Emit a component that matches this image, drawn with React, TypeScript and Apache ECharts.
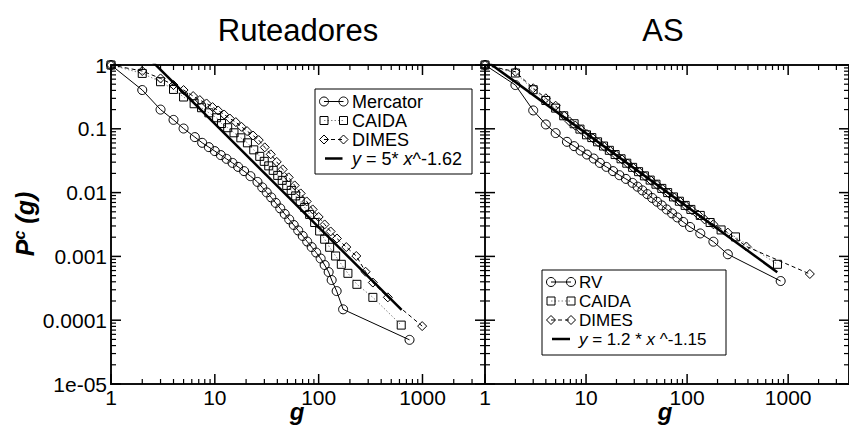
import React, { useEffect, useRef } from 'react';
import * as echarts from 'echarts';

const FONT = "'Liberation Sans', Arial, Helvetica, sans-serif";

// ---------- Ruteadores panel ----------
const routersMercator: [number, number][] = [
  [1, 1], [2, 0.405], [3, 0.2], [4, 0.138], [5, 0.101], [6.42, 0.0741], [7.55, 0.0603], [8.76, 0.0516],
  [10, 0.0447], [11.42, 0.0387], [12.96, 0.0338], [14.8, 0.0292], [16.75, 0.0253], [19.13, 0.0217],
  [22.04, 0.0181], [25.74, 0.0147], [28.62, 0.01207], [31.62, 0.01007], [34.94, 0.0084], [38.6, 0.00689],
  [42.65, 0.00565], [47.1, 0.00463], [52.03, 0.0038], [57.5, 0.00311], [63.53, 0.00255], [70.2, 0.00209],
  [77.53, 0.00171], [85.64, 0.0014], [94.62, 0.00115], [104.5, 0.000927], [114.2, 0.000733],
  [124.8, 0.000569], [133.4, 0.000426], [149, 0.000286], [172, 0.000148], [750, 0.0000492],
];
const routersCaida: [number, number][] = [
  [1, 1], [2, 0.738], [3, 0.547], [4, 0.414], [5, 0.315], [6.32, 0.247], [7.45, 0.214], [8.76, 0.178],
  [10.4, 0.149], [11.6, 0.121], [13.3, 0.104], [15.3, 0.0866], [17.8, 0.0722], [20.6, 0.0603],
  [23.71, 0.0468], [27.08, 0.037], [29.92, 0.0309], [33.05, 0.02625], [36.52, 0.02231], [40.35, 0.01862],
  [44.57, 0.01554], [49.24, 0.01297], [54.4, 0.01083], [60.09, 0.00887], [66.4, 0.00727], [73.34, 0.00586],
  [81.9, 0.00455], [91.5, 0.0034], [102.2, 0.0025], [114.2, 0.00186], [127.6, 0.00139], [145.7, 0.001015],
  [165.3, 0.000752], [191.3, 0.000543], [233.5, 0.000365], [332.7, 0.000228], [624, 0.0000838],
];
const routersDimes: [number, number][] = [
  [1, 1], [2, 0.805], [3, 0.616], [4, 0.485], [5, 0.405], [6.18, 0.326], [7.17, 0.282], [8.32, 0.2495],
  [9.5, 0.219], [10.76, 0.1938], [12.29, 0.1677], [13.94, 0.145], [15.92, 0.1274], [18.06, 0.1075],
  [20.45, 0.092], [23.35, 0.0785], [26.49, 0.0665], [30.26, 0.0512], [34.56, 0.0398], [39.47, 0.0303],
  [45.07, 0.02313], [51.46, 0.01732], [58.77, 0.01297], [67.13, 0.00971], [76.66, 0.00727], [87.56, 0.00545],
  [100, 0.00415], [114.2, 0.00317], [130.4, 0.00246], [150, 0.00191], [184.6, 0.0014], [230.4, 0.001015],
  [283.1, 0.000575], [332.7, 0.000389], [463.8, 0.000228], [993, 0.0000808],
];
const routersFit: [number, number][] = [[1, 5], [630, 0.000145]];

// ---------- AS panel ----------
const asRV: [number, number][] = [
  [1, 1], [2, 0.485], [3, 0.194], [4, 0.117], [5, 0.0857], [6.47, 0.0625], [7.62, 0.0535], [8.81, 0.0456],
  [10.2, 0.0395], [11.9, 0.0342], [13.7, 0.0292], [15.9, 0.0253], [18.5, 0.0217], [21.4, 0.01875],
  [24.8, 0.0164], [28.8, 0.0142], [32.3, 0.01238], [36.1, 0.01083], [40.4, 0.00947], [45.1, 0.00825],
  [50.4, 0.0072], [56.2, 0.0063], [62.8, 0.00545], [71, 0.00472], [80.1, 0.00408], [91.5, 0.00347],
  [107, 0.00289], [135, 0.00229], [182, 0.0017], [253, 0.00108], [843, 0.000411],
];
const asCaida: [number, number][] = [
  [1, 1], [2, 0.749], [3, 0.41], [4, 0.278], [5, 0.211], [6.01, 0.16], [7.62, 0.12], [8.7, 0.0989],
  [10.1, 0.0805], [11.4, 0.0728], [13, 0.0625], [14.9, 0.0537], [17, 0.046], [19.4, 0.0395], [22.2, 0.0339],
  [25.3, 0.0289], [28.9, 0.02487], [33.1, 0.02129], [37.8, 0.01829], [43.1, 0.01571], [49.2, 0.01354],
  [56.2, 0.01164], [64.2, 0.01], [73.3, 0.00856], [83.8, 0.00733], [95.7, 0.0063], [109, 0.00545],
  [135, 0.00439], [169, 0.0034], [217, 0.0026], [301, 0.00202], [784, 0.000752],
];
const asDimes: [number, number][] = [
  [1, 1], [2, 0.785], [3, 0.432], [4, 0.301], [5, 0.23], [6.07, 0.16], [6.86, 0.1307], [7.84, 0.1122],
  [8.95, 0.0964], [10.2, 0.0826], [11.7, 0.0709], [13.3, 0.0609], [15.2, 0.0524], [17.4, 0.0448],
  [19.9, 0.0385], [22.7, 0.0331], [25.9, 0.0284], [29.6, 0.0243], [33.8, 0.0209], [38.6, 0.01796],
  [44.1, 0.01537], [50.4, 0.0132], [57.5, 0.01135], [65.7, 0.00975], [75, 0.00835], [85.6, 0.00717],
  [97.8, 0.00616], [112, 0.00529], [128, 0.00453], [149, 0.0038], [182, 0.00319], [253, 0.00236],
  [386, 0.00143], [1639, 0.00053],
];
const asFit: [number, number][] = [[1, 1.2], [780, 0.000566]];

// ---------- axes / texts ----------
const xTickValues = [1, 10, 100, 1000];
const xTickLabels = ['1', '10', '100', '1000'];
const yTickValues = [1, 0.1, 0.01, 0.001, 0.0001, 0.00001];
const yTickLabels = ['1', '0.1', '0.01', '0.001', '0.0001', '1e-05'];
const minorSteps = [2, 3, 4, 5, 6, 7, 8, 9];
const X_RANGE = [1, 4000];
const Y_RANGE = [0.00001, 1];

const panelTitles = ['Ruteadores', 'AS'];
const xAxisName = 'g';
const legendRouters = ['Mercator', 'CAIDA', 'DIMES', '{i|y} = 5* {i|x}^-1.62'];
const legendAS = ['RV', 'CAIDA', 'DIMES', '{i|y} = 1.2 * {i|x} ^-1.15'];

const GRIDS = [
  { left: 111, top: 65, width: 374, height: 319 },
  { left: 485, top: 65, width: 374, height: 319 },
];

const lg = Math.log10;
const labelFor = (values: number[], labels: string[]) => (v: number) => {
  const i = values.findIndex((t) => Math.abs(lg(t) - lg(v)) < 1e-6);
  return i >= 0 ? labels[i] : '';
};

const AXIS_COLOR = '#000';
const MAJOR_LEN = 10;
const MINOR_LEN = 5;

const xMinorValues = xTickValues.flatMap((d) => minorSteps.map((m) => d * m)).filter((v) => v < X_RANGE[1]);
const yMinorValues = yTickValues.slice(1).flatMap((d) => minorSteps.map((m) => d * m));
const isDecade = (v: number) => Math.abs(lg(v) - Math.round(lg(v))) < 1e-9;

const logX = (g: number) => ({
  gridIndex: g,
  type: 'log',
  logBase: 10,
  min: X_RANGE[0],
  max: X_RANGE[1],
  position: 'bottom',
  silent: true,
  axisLine: { show: false, onZero: false },
  axisTick: { show: false },
  minorTick: { show: false },
  splitLine: { show: false },
  axisLabel: {
    show: true, margin: 3, interval: 0, fontSize: 21, fontFamily: FONT, color: '#000',
    showMinLabel: true, showMaxLabel: false, formatter: labelFor(xTickValues, xTickLabels),
  },
});

const logY = (g: number, showLabels: boolean) => ({
  gridIndex: g,
  type: 'log',
  logBase: 10,
  min: Y_RANGE[0],
  max: Y_RANGE[1],
  position: 'left',
  silent: true,
  axisLine: { show: false, onZero: false },
  axisTick: { show: false },
  minorTick: { show: false },
  splitLine: { show: false },
  axisLabel: {
    show: showLabels, margin: 4, interval: 0, fontSize: 21, fontFamily: FONT, color: '#000',
    showMinLabel: true, showMaxLabel: true, formatter: labelFor(yTickValues, yTickLabels),
  },
});

const styles = {
  solid: { color: '#000', width: 1, type: 'solid' },
  dotted: { color: '#808080', width: 1, type: [1.5, 2] },
  dashed: { color: '#000', width: 1, type: [4, 3] },
};

const markerSeries = (name: string, data: [number, number][], g: number, symbol: string, size: number, line: any) => ({
  name,
  type: 'line',
  xAxisIndex: g,
  yAxisIndex: g,
  data,
  symbol,
  symbolSize: size,
  showSymbol: true,
  clip: true,
  silent: true,
  z: 3,
  itemStyle: { color: 'none', borderColor: '#000', borderWidth: 1 },
  lineStyle: line,
  emphasis: { disabled: true },
});

const fitSeries = (name: string, data: [number, number][], g: number) => ({
  name,
  type: 'line',
  xAxisIndex: g,
  yAxisIndex: g,
  data,
  showSymbol: false,
  symbol: 'none',
  clip: true,
  silent: true,
  z: 4,
  lineStyle: { color: '#000', width: 2.5 },
  emphasis: { disabled: true },
});

// Axis ticks drawn by custom series in data space (positions come from the log scales).
const tickLineEl = (x1: number, y1: number, x2: number, y2: number, w: number) => ({
  type: 'line',
  z2: 50,
  shape: { x1, y1, x2, y2 },
  style: { stroke: AXIS_COLOR, lineWidth: w, opacity: 1 },
});

const xTickSeries = (g: number) => ({
  type: 'custom',
  name: `x-ticks-${g}`,
  xAxisIndex: g,
  yAxisIndex: g,
  silent: true,
  clip: false,
  z: 10,
  data: [...xTickValues, ...xMinorValues].map((v) => [v, Y_RANGE[0]]),
  encode: { x: 0, y: 1 },
  renderItem: (params: any, api: any) => {
    const v = api.value(0);
    const x = api.coord([v, Y_RANGE[0]])[0];
    const bottom = api.coord([X_RANGE[0], Y_RANGE[0]])[1];
    const top = api.coord([X_RANGE[0], Y_RANGE[1]])[1];
    const major = isDecade(v);
    const len = major ? MAJOR_LEN : MINOR_LEN;
    const w = major ? 1.5 : 1.2;
    return {
      type: 'group',
      children: [tickLineEl(x, bottom, x, bottom - len, w), tickLineEl(x, top, x, top + len, w)],
    };
  },
});

const yTickSeries = (g: number) => ({
  type: 'custom',
  name: `y-ticks-${g}`,
  xAxisIndex: g,
  yAxisIndex: g,
  silent: true,
  clip: false,
  z: 10,
  data: [...yTickValues, ...yMinorValues].map((v) => [X_RANGE[0], v]),
  encode: { x: 0, y: 1 },
  renderItem: (params: any, api: any) => {
    const v = api.value(1);
    const y = api.coord([X_RANGE[0], v])[1];
    const left = api.coord([X_RANGE[0], Y_RANGE[0]])[0];
    const right = api.coord([X_RANGE[1], Y_RANGE[0]])[0];
    const major = isDecade(v);
    const len = major ? MAJOR_LEN : MINOR_LEN;
    const w = major ? 1.5 : 1.2;
    return {
      type: 'group',
      children: [tickLineEl(left, y, left + len, y, w), tickLineEl(right, y, right - len, y, w)],
    };
  },
});

const symbolEl = (kind: string, cx: number, cy: number) => {
  const st = { fill: 'none', stroke: '#000', lineWidth: 1 };
  if (kind === 'circle') return { type: 'circle', shape: { cx, cy, r: 4.5 }, style: st, z: 22 };
  if (kind === 'rect') return { type: 'rect', shape: { x: cx - 4, y: cy - 4, width: 8, height: 8 }, style: st, z: 22 };
  return {
    type: 'polygon',
    shape: { points: [[cx, cy - 4.5], [cx + 4.5, cy], [cx, cy + 4.5], [cx - 4.5, cy]] },
    style: st,
    z: 22,
  };
};

const legendBlock = (
  box: { x: number; y: number; width: number; height: number },
  labels: string[],
  rowY: number[],
  sx1: number,
  sx2: number,
  textX: number,
  fontSize: number,
) => {
  const kinds = [
    { symbol: 'circle', line: styles.solid },
    { symbol: 'rect', line: styles.dotted },
    { symbol: 'diamond', line: styles.dashed },
  ];
  const els: any[] = [
    { type: 'rect', shape: box, style: { fill: '#fff', stroke: '#000', lineWidth: 1 }, z: 20 },
  ];
  labels.forEach((label, i) => {
    const y = rowY[i];
    if (i < 3) {
      const k = kinds[i];
      els.push({
        type: 'line',
        shape: { x1: sx1, y1: y, x2: sx2, y2: y },
        style: { stroke: k.line.color, lineWidth: 1, lineDash: Array.isArray(k.line.type) ? k.line.type : null },
        z: 21,
      });
      els.push(symbolEl(k.symbol, sx1, y));
      els.push(symbolEl(k.symbol, sx2, y));
    } else {
      els.push({
        type: 'line',
        shape: { x1: sx1 + 1, y1: y, x2: sx2 - 1, y2: y },
        style: { stroke: '#000', lineWidth: 2.5 },
        z: 21,
      });
    }
    els.push({
      type: 'text',
      x: textX,
      y,
      z: 21,
      style: {
        text: label,
        fontSize,
        fontFamily: FONT,
        fill: '#000',
        align: 'left',
        verticalAlign: 'middle',
        rich: { i: { fontSize, fontFamily: FONT, fontStyle: 'italic', fill: '#000' } },
      },
    });
  });
  return els;
};

export default function App() {
  const ref = useRef<HTMLDivElement>(null);

  useEffect(() => {
    if (!ref.current) return;
    const chart = echarts.init(ref.current, undefined, { renderer: 'svg' });

    const graphic: any[] = [
      {
        type: 'text', x: 298, y: 30,
        style: { text: panelTitles[0], fontSize: 31, fontFamily: FONT, fill: '#000', align: 'center', verticalAlign: 'middle' },
      },
      {
        type: 'text', x: 663, y: 30,
        style: { text: panelTitles[1], fontSize: 31, fontFamily: FONT, fill: '#000', align: 'center', verticalAlign: 'middle' },
      },
      {
        type: 'text', x: 297, y: 411,
        style: { text: xAxisName, fontSize: 24, fontWeight: 'bold', fontStyle: 'italic', fontFamily: FONT, fill: '#000', align: 'center', verticalAlign: 'middle' },
      },
      {
        type: 'text', x: 665, y: 411,
        style: { text: xAxisName, fontSize: 24, fontWeight: 'bold', fontStyle: 'italic', fontFamily: FONT, fill: '#000', align: 'center', verticalAlign: 'middle' },
      },
      {
        type: 'text', x: 25, y: 224, rotation: Math.PI / 2,
        style: {
          text: '{p|P}{s|c}{p| (g)}',
          align: 'center',
          verticalAlign: 'middle',
          fill: '#000',
          rich: {
            p: { fontSize: 25, fontWeight: 'bold', fontStyle: 'italic', fontFamily: FONT, lineHeight: 28, fill: '#000' },
            s: { fontSize: 16, fontWeight: 'bold', fontStyle: 'italic', fontFamily: FONT, lineHeight: 16, verticalAlign: 'top', fill: '#000' },
          },
        },
      },
      ...legendBlock({ x: 315, y: 89, width: 157, height: 85 }, legendRouters, [101.5, 120.5, 139.5, 158.5], 324, 343.5, 352, 18),
      ...legendBlock({ x: 542, y: 270, width: 184, height: 85 }, legendAS, [282, 301, 320, 339], 551, 571, 579, 17),
    ];

    const option: any = {
      animation: false,
      backgroundColor: '#fff',
      grid: GRIDS.map((g) => ({ ...g, show: true, borderColor: '#111', borderWidth: 2, backgroundColor: 'transparent', containLabel: false })),
      xAxis: [logX(0), logX(1)],
      yAxis: [logY(0, true), logY(1, false)],
      series: [
        markerSeries('Mercator', routersMercator, 0, 'circle', 9, styles.solid),
        markerSeries('CAIDA (Ruteadores)', routersCaida, 0, 'rect', 8, styles.dotted),
        markerSeries('DIMES (Ruteadores)', routersDimes, 0, 'diamond', 9, styles.dashed),
        fitSeries('y = 5* x^-1.62', routersFit, 0),
        markerSeries('RV', asRV, 1, 'circle', 9, styles.solid),
        markerSeries('CAIDA (AS)', asCaida, 1, 'rect', 8, styles.dotted),
        markerSeries('DIMES (AS)', asDimes, 1, 'diamond', 9, styles.dashed),
        fitSeries('y = 1.2 * x ^-1.15', asFit, 1),
        xTickSeries(0),
        yTickSeries(0),
        xTickSeries(1),
        yTickSeries(1),
      ],
      graphic,
    };

    chart.setOption(option);
    return () => chart.dispose();
  }, []);

  return <div ref={ref} style={{ position: 'absolute', left: 0, top: 0, width: 849, height: 425 }} />;
}
